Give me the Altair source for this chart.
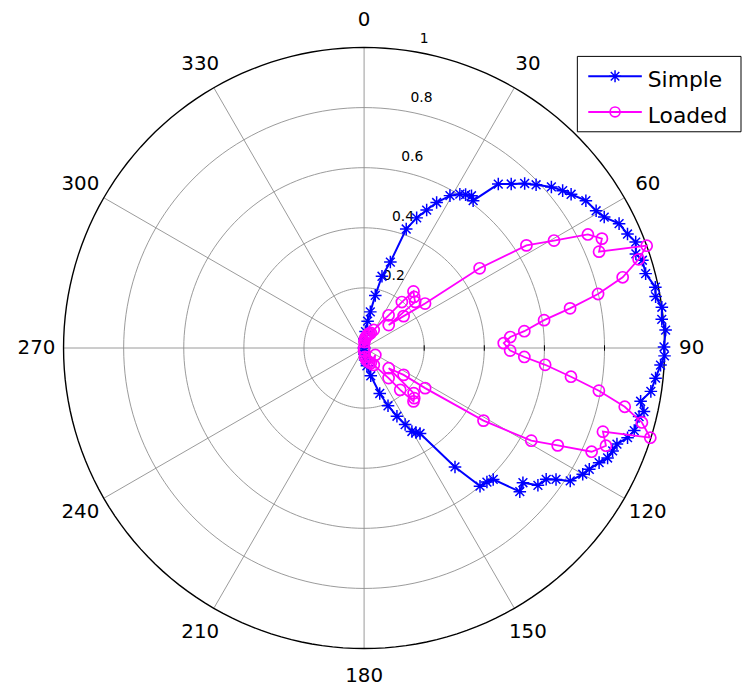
import numpy as np
import pandas as pd
import altair as alt

# ---------------- data ----------------
simple_theta = [0, 2.5, 5, 7.5, 9.8, 12, 14, 17, 19.5, 22, 24.4, 26.5, 29.4, 31.9, 33.5, 35.2,
                36.5, 39.3, 41.9, 44.3, 46.5, 49.3, 51.6, 53.4, 56.4, 59.4, 61.4, 64, 66.6,
                68.7, 70.9, 72.5, 75.2, 78.2, 80, 82.2, 84.5, 86.6, 89.8, 91.5, 93.3, 95.9,
                98.6, 100.9, 102.8, 104, 107, 108.8, 110.8, 112.5, 114.3, 116, 118.3, 120,
                122.8, 124.4, 125.8, 128.3, 130.3, 132.7, 135.5, 137.5, 140, 142.6, 146.8,
                148.5, 150.2, 151.8, 154.3, 157.5, 161, 166.5, 171, 175, 178, 180]
simple_r = [0, 0.03, 0.055, 0.09, 0.122, 0.179, 0.246, 0.299, 0.42, 0.467, 0.504, 0.541,
            0.582, 0.603, 0.612, 0.62, 0.61, 0.705, 0.733, 0.765, 0.789, 0.822, 0.843, 0.858,
            0.886, 0.897, 0.91, 0.944, 0.955, 0.97, 0.957, 0.971, 0.969, 0.99, 0.985, 1.0,
            0.995, 1.005, 0.998, 1.0, 0.988, 0.975, 0.965, 0.937, 0.955, 0.943, 0.94, 0.926,
            0.9, 0.895, 0.889, 0.87, 0.851, 0.84, 0.816, 0.774, 0.747, 0.737, 0.693, 0.705,
            0.613, 0.605, 0.60, 0.498, 0.34, 0.33, 0.32, 0.289, 0.252, 0.208, 0.16, 0.095,
            0.06, 0.04, 0.02, 0]

loaded_theta = [0, 3, 6, 9, 12, 15, 18, 21, 24,
                28, 36.8, 39.4, 41.1, 44.4, 47.9, 47, 51.1, 53.9,
                55.4, 57.7, 60.5, 63.1, 65.3, 67.7, 70.1, 72.1, 74.7, 77,
                79.1, 81.2, 84, 85.7, 88, 91, 93.2, 95.3, 97.9, 100.3,
                102.7, 105, 107.4, 109.3, 112, 114.5, 116.7, 119, 121.3, 123.3,
                124.2, 129.4, 132.3, 135, 137.2, 139.2, 140.8, 150.3, 121.8,
                156, 160, 165, 170, 175, 180]
loaded_r = [0, 0.02, 0.03, 0.035, 0.04, 0.045, 0.05, 0.05, 0.055,
            0.068, 0.136, 0.198, 0.25, 0.238, 0.229, 0.112, 0.169, 0.251,
            0.467, 0.639, 0.726, 0.835, 0.871, 0.845, 1.0, 0.96, 0.892, 0.799,
            0.698, 0.606, 0.536, 0.488, 0.465, 0.486, 0.534, 0.605, 0.695, 0.794,
            0.889, 0.957, 0.998, 0.842, 0.868, 0.832, 0.721, 0.636, 0.465, 0.243,
            0.159, 0.106, 0.223, 0.236, 0.242, 0.184, 0.129, 0.065, 0.044,
            0.055, 0.05, 0.045, 0.04, 0.03, 0.01]

ring_values = [0.2, 0.4, 0.6, 0.8, 1.0]
ring_labels = ["0.2", "0.4", "0.6", "0.8", "1"]
spoke_angles = [0, 30, 60, 90, 120, 150]
angle_ticks = list(range(0, 360, 30))
angle_labels = [str(a) for a in angle_ticks]
series_names = ["Simple", "Loaded"]
series_colors = ["#0000FF", "#FF00FF"]

# ---------------- layout ----------------
W, H = 740, 683
CX, CY = 359.0, 340.0   # centre of the polar plot in chart pixels
PX = 303.0              # pixels per unit radius
xdom = [-CX / PX, (W - CX) / PX]
ydom = [-(H - CY) / PX, CY / PX]
sx = alt.Scale(domain=xdom, nice=False, zero=False)
sy = alt.Scale(domain=ydom, nice=False, zero=False)
FONT = "DejaVu Sans"
GRID = "#8f8f8f"


def enc(**extra):
    return dict(x=alt.X("x:Q", scale=sx, axis=None),
                y=alt.Y("y:Q", scale=sy, axis=None), **extra)


def polar(chart, rfield="datum.r", afield="datum.a"):
    return chart.transform_calculate(
        x=f"{rfield}*sin({afield}*PI/180)",
        y=f"{rfield}*cos({afield}*PI/180)")


# rings
ang = np.arange(0, 361, 2)
ring_df = pd.DataFrame({"r": np.repeat(ring_values, len(ang)),
                        "a": np.tile(ang, len(ring_values))})
inner_rings = polar(alt.Chart(ring_df)).transform_filter("datum.r < 0.99").mark_line(
    color=GRID, strokeWidth=0.9).encode(**enc(detail="r:N", order="a:Q"))
outer_ring = polar(alt.Chart(ring_df)).transform_filter("datum.r >= 0.99").mark_line(
    color="black", strokeWidth=1.4).encode(**enc(detail="r:N", order="a:Q"))

# spokes
spoke_df = pd.DataFrame({"a": spoke_angles})
spokes = alt.Chart(spoke_df).transform_calculate(
    x="sin(datum.a*PI/180)", y="cos(datum.a*PI/180)",
    x2="-sin(datum.a*PI/180)", y2="-cos(datum.a*PI/180)"
).mark_rule(color=GRID, strokeWidth=0.9).encode(**enc(x2="x2:Q", y2="y2:Q"))

# small ticks on the 90 degree spoke
tick_df = pd.DataFrame({"r": ring_values[:-1]})
ticks = alt.Chart(tick_df).transform_calculate(x="datum.r", y="0").mark_point(
    shape="M0,-1L0,1", size=30, filled=False, color="black", strokeWidth=1, opacity=1
).encode(**enc())

# angle labels
ang_df = pd.DataFrame({"a": angle_ticks, "label": angle_labels, "r": 1.09})
ang_text = polar(alt.Chart(ang_df)).mark_text(
    font=FONT, fontSize=20, align="center", baseline="middle", color="black"
).encode(**enc(text="label:N"))

# radial labels
rl_df = pd.DataFrame({"r": ring_values, "label": ring_labels})
rad_text = alt.Chart(rl_df).transform_calculate(
    x="0.031 + datum.r*0.154", y="0.043 + datum.r*0.985"
).mark_text(font=FONT, fontSize=14, align="left", baseline="middle", color="black"
            ).encode(**enc(text="label:N"))

# series
simple_df = pd.DataFrame({"i": range(len(simple_theta)), "a": simple_theta, "r": simple_r})
loaded_df = pd.DataFrame({"i": range(len(loaded_theta)), "a": loaded_theta, "r": loaded_r})

STAR = "M-1,0L1,0M0,-1L0,1M-0.7,-0.7L0.7,0.7M-0.7,0.7L0.7,-0.7"

simple_line = polar(alt.Chart(simple_df)).mark_line(
    color=series_colors[0], strokeWidth=2).encode(**enc(order="i:Q"))
simple_pts = polar(alt.Chart(simple_df)).mark_point(
    shape=STAR, size=160, filled=False, color=series_colors[0], strokeWidth=1.5, opacity=1
).encode(**enc())
loaded_line = polar(alt.Chart(loaded_df)).mark_line(
    color=series_colors[1], strokeWidth=1.8).encode(**enc(order="i:Q"))
loaded_pts = polar(alt.Chart(loaded_df)).mark_point(
    shape="circle", size=125, filled=False, color=series_colors[1], strokeWidth=1.7, opacity=1
).encode(**enc())

# legend (drawn by hand, MATLAB style)
one = pd.DataFrame({"k": [0]})
leg_box = alt.Chart(one).mark_rect(fill="white", stroke="black", strokeWidth=1).encode(
    x=alt.value(574), x2=alt.value(739), y=alt.value(46), y2=alt.value(122))
leg_layers = [leg_box]
shapes = [(STAR, 150, 1.5), ("circle", 100, 1.7)]
for k, (name, col) in enumerate(zip(series_names, series_colors)):
    ly = 66 + 36 * k
    leg_layers.append(alt.Chart(one).mark_rule(color=col, strokeWidth=2).encode(
        x=alt.value(585), x2=alt.value(639), y=alt.value(ly)))
    shp, sz, sw = shapes[k]
    leg_layers.append(alt.Chart(one).mark_point(
        shape=shp, size=sz, filled=False, color=col, strokeWidth=sw, opacity=1).encode(
        x=alt.value(612), y=alt.value(ly)))
    leg_layers.append(alt.Chart(one).mark_text(
        text=name, font=FONT, fontSize=22, align="left", baseline="alphabetic",
        color="black").encode(x=alt.value(645), y=alt.value(ly + 11)))

chart = alt.layer(
    inner_rings, spokes, outer_ring, ticks, ang_text, rad_text,
    simple_line, simple_pts, loaded_line, loaded_pts, *leg_layers
).properties(
    width=W, height=H, padding=0, autosize=alt.AutoSizeParams(type="none")
).configure_view(stroke=None)

chart.save("out.html", embed_options={"renderer": "svg", "actions": False})
